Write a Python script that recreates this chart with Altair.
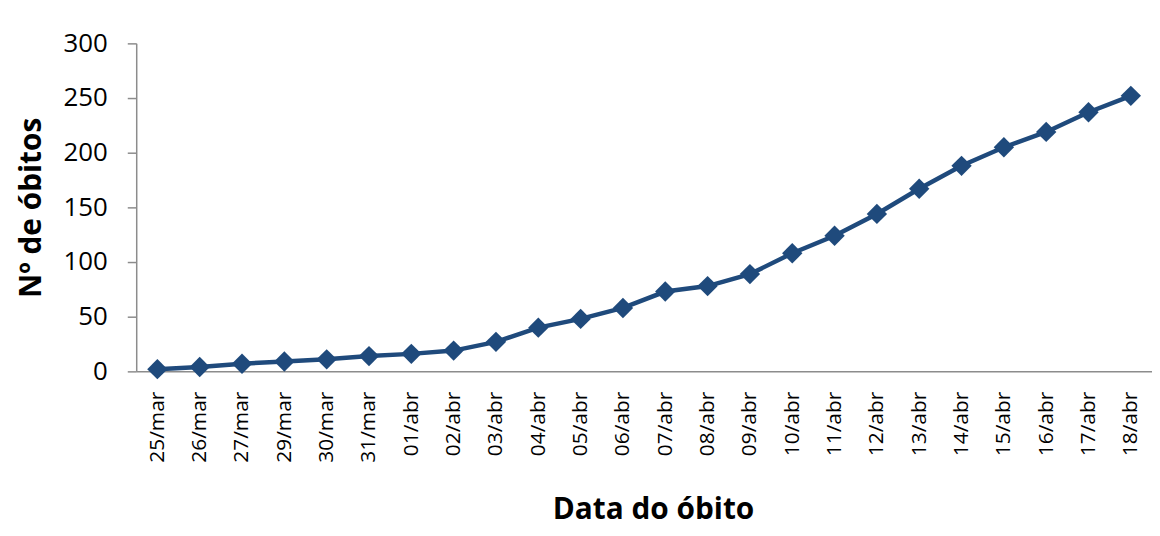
import altair as alt
import pandas as pd

dates = ["25/mar", "26/mar", "27/mar", "29/mar", "30/mar", "31/mar", "01/abr", "02/abr",
         "03/abr", "04/abr", "05/abr", "06/abr", "07/abr", "08/abr", "09/abr", "10/abr",
         "11/abr", "12/abr", "13/abr", "14/abr", "15/abr", "16/abr", "17/abr", "18/abr"]
obitos = [2, 4, 7, 9, 11, 14, 16, 19, 27, 40, 48, 58, 73, 78, 89, 108,
          124, 144, 167, 188, 205, 219, 237, 252]
y_ticks = [0, 50, 100, 150, 200, 250, 300]

df = pd.DataFrame({"data": dates, "obitos": obitos})

color = "#1F4A7C"
axis_gray = "#8C8C8C"
font = "Open Sans"

base = alt.Chart(df).encode(
    x=alt.X("data:O", sort=dates,
            axis=alt.Axis(title="Data do óbito", labelAngle=-90, ticks=False,
                          labelPadding=20, labelFontSize=21, labelFont=font,
                          labelColor="#000000", titleFont=font, titleFontSize=30,
                          titleFontWeight="bold", titleColor="#000000",
                          titleBaseline="alphabetic", titleY=148, titleX=520,
                          domainColor=axis_gray, domainWidth=1.5, grid=False)),
    y=alt.Y("obitos:Q", scale=alt.Scale(domain=[0, 300], nice=False),
            axis=alt.Axis(title="Nº de óbitos", values=y_ticks, tickSize=9,
                          tickColor=axis_gray, tickWidth=1.5, labelPadding=20,
                          labelFontSize=26, labelFont=font, labelColor="#000000",
                          titleFont=font, titleFontSize=30, titleFontWeight="bold",
                          titleColor="#000000", titlePadding=17,
                          domainColor=axis_gray, domainWidth=1.5, grid=False)),
)

line = base.mark_line(color=color, strokeWidth=4.5)
points = base.mark_point(shape="diamond", filled=True, size=420, color=color, opacity=1)

chart = (line + points).properties(
    width=1022, height=330,
    autosize=alt.AutoSizeParams(type="none"),
    padding={"left": 129, "top": 34, "right": 0, "bottom": 156},
    background="white",
).configure_view(stroke=None)

chart.save("out.html", embed_options={"renderer": "svg", "actions": False})
